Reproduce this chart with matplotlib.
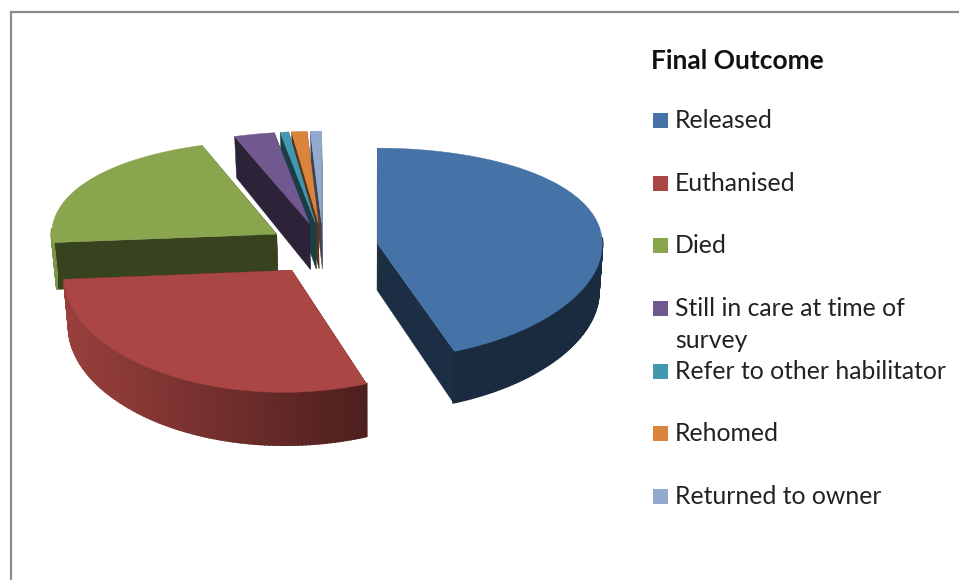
import matplotlib
matplotlib.use("Agg")
import matplotlib.pyplot as plt
from matplotlib.patches import Polygon, Rectangle
import numpy as np

plt.rcParams["font.family"] = ["Lato", "DejaVu Sans"]

labels = ["Released", "Euthanised", "Died", "Still in care at time of\nsurvey",
          "Refer to other habilitator", "Rehomed", "Returned to owner"]
values = [44.3, 29.4, 20.9, 2.9, 0.6, 1.1, 0.8]
colores = ["#4572A7", "#AA4643", "#89A54E", "#71588F", "#4198AF", "#DB843D", "#93A9CF"]
legend_y = [120, 183, 245, 308, 371, 433, 496]

explode = 0.245
cx, cy = 323, 248
a, b = 225, 105
depth = 47


def project(u, v, drop=0.0):
    x = cx + a * u
    # perspectiva: lo cercano se abre hacia la izquierda, lo lejano se aplana
    x = x + (x - 500) * 0.04 * np.maximum(v, 0)
    y = cy + b * v * (1 + np.where(v > 0, 0.115, 0.085) * v)
    x = x + 0.015 * (370 - x) * drop
    y = y + depth * (1 + 0.1 * v) * drop
    return np.column_stack([x, y])


def shade(color, k):
    return tuple(np.array(matplotlib.colors.to_rgb(color)) * k)


def rim_shade(x):
    return float(np.clip(0.9 - (x - 65) * 0.0015, 0.38, 0.9))


fig = plt.figure(figsize=(9.59, 5.80), dpi=100)
ax = fig.add_axes([0, 0, 1, 1])
ax.set_xlim(0, 959)
ax.set_ylim(580, 0)
ax.axis("off")

# marco gris
ax.plot([10.5, 10.5, 959], [580, 12, 12], color="#8c8c8c", lw=1.6, solid_joinstyle="miter")

edges = np.cumsum([0] + values) / np.sum(values) * 2 * np.pi
slices = []
for i in range(len(values)):
    t = np.linspace(edges[i], edges[i + 1], max(int(np.degrees(edges[i + 1] - edges[i])), 4))
    mid = (edges[i] + edges[i + 1]) / 2
    u0, v0 = explode * np.sin(mid), -explode * np.cos(mid)
    slices.append((i, t, u0, v0))

# orden de atras hacia adelante
for i, t, u0, v0 in sorted(slices, key=lambda s: s[3]):
    c = colores[i]
    u = u0 + np.sin(t)
    v = v0 - np.cos(t)
    wall = shade(c, 0.4)
    for uu, vv in [(u[0], v[0]), (u[-1], v[-1])]:
        top = project(np.array([u0, uu]), np.array([v0, vv]))
        bot = project(np.array([uu, u0]), np.array([vv, v0]), 1.0)
        ax.add_patch(Polygon(np.vstack([top, bot]), fc=wall, ec=wall, lw=0.3))
    for j in range(len(t) - 1):
        if -np.cos(t[j]) < -0.05 and -np.cos(t[j + 1]) < -0.05:
            continue
        top = project(u[j:j + 2], v[j:j + 2])
        bot = project(u[j:j + 2][::-1], v[j:j + 2][::-1], 1.0)
        col = shade(c, rim_shade(top[:, 0].mean()))
        ax.add_patch(Polygon(np.vstack([top, bot]), fc=col, ec=col, lw=1.5))
    face = project(np.r_[u0, u], np.r_[v0, v])
    ax.add_patch(Polygon(face, fc=c, ec=c, lw=0.3))

ax.text(651, 61, "Final Outcome", fontsize=19, fontweight="bold", va="center", ha="left", color="#111111")
for lab, y, c in zip(labels, legend_y, colores):
    ax.add_patch(Rectangle((653, y - 7.5), 15, 15, fc=c, ec="none"))
    ax.text(675, y + 0.5, lab.split("\n")[0], fontsize=17.8, va="center", ha="left", color="#222222")
    if "\n" in lab:
        ax.text(675, y + 33, lab.split("\n")[1], fontsize=17.8, va="center", ha="left", color="#222222")

fig.savefig("out.png", dpi=100, facecolor="white")
plt.close(fig)
